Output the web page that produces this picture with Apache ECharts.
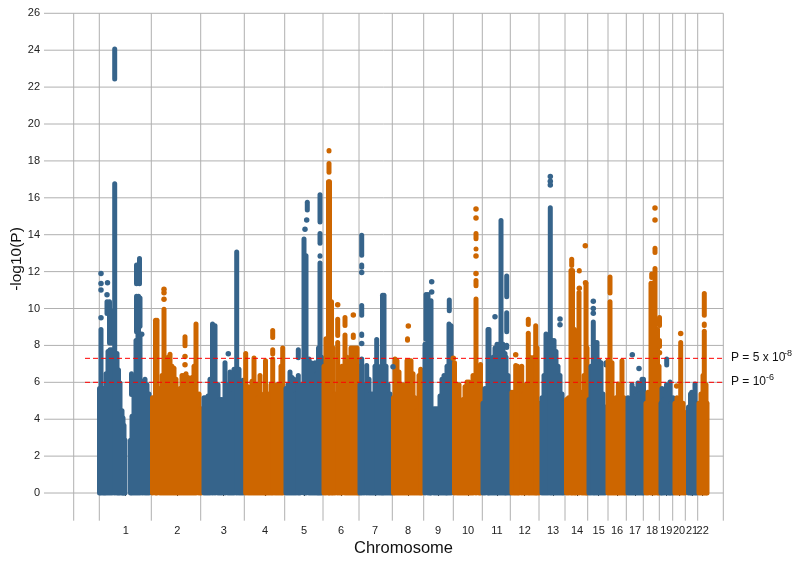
<!DOCTYPE html>
<html><head><meta charset="utf-8">
<style>html,body{margin:0;padding:0;background:#fff}#c{width:800px;height:563px}</style>
<script src="https://cdn.jsdelivr.net/npm/echarts@6/dist/echarts.min.js"></script>
</head><body><div id="c"></div>
<script>
const chromLabels=['1','2','3','4','5','6','7','8','9','10','11','12','13','14','15','16','17','18','19','20','21','22'];
const chromCenters=[125.7,177.3,223.7,265,304,341,375,408,438,468,497,524.7,553,577,598.7,617,635,652,666.3,679,692,702.7];
const chromBounds=[73.7,99.3,151.3,200.7,244.3,284.7,323,359,392.3,423.7,453.3,482.3,510.3,539,565,587.7,608,626.3,643.3,659.3,672.7,685.3,697.7,723.3];
const yTicks=[0,2,4,6,8,10,12,14,16,18,20,22,24,26];
const thresholdHigh=7.3, thresholdLow=6;
// columns: [position, lower -log10(P), upper -log10(P)]
const chr1=[[99.5,0,5.8],[101,0,9],[103,0,5.8],[104.5,0,5.8],[106,0,6.6],[108,0,7.8],[110,0,7.9],[112,0,7.9],[114.7,0,16.9],[114.7,22.3,24.2],[117,0,7.7],[118.5,0,6.8],[120,0,6.1],[122,0,4.6],[123,0,4.2],[124,0,3.8],[125,0,3],[107,9.6,10.5],[109.5,8,10.5],[111.5,8,10],[130.5,0,3],[132,0,4.3],[134,0,5.4],[131.5,5.2,6.6],[136,0,8.4],[138,0,9],[140,0,8.6],[136.5,8.6,10.8],[138.5,8.6,10.8],[140,8.9,10.7],[136.5,11.2,12.5],[139.5,11.2,12.85],[142.5,0,6.2],[145,0,6.3],[147,0,6],[149,0,5.5]];
const chr2=[[152.5,0,5.3],[155.5,0,9.5],[157,0,9.5],[160,0,5.8],[162,0,6.5],[164,0,10.1],[166,0,7],[168,0,7.5],[170,0,7.65],[172,0,7],[174,0,6.9],[176,0,6.3],[178,0,5],[180,0,5.8],[182,0,6.5],[184,0,6.5],[186,0,6.6],[188,0,6.4],[190,0,6],[192,0,6.4],[194,0,7],[196,0,9.3],[199,0,5.5],[201,0,4.7],[185,7.85,8.6]];
const chr3=[[204,0,5.3],[206,0,5.3],[208,0,5.4],[210,0,6.3],[212.5,0,9.3],[215,0,9.2],[218,0,6],[220,0,5.2],[222,0,5.2],[225,0,7.2],[228,0,6],[230,0,6.7],[232,0,5.5],[234,0,6.85],[236.7,0,13.2],[239,0,6.85],[241,0,5.8],[243,0,6.25]];
const chr4=[[245.7,0,7.7],[248,0,5.9],[250,0,5.5],[252,0,6.2],[254,0,7.45],[256,0,6],[258,0,5.3],[260,0,6.5],[262,0,5],[264,0,5.5],[265.5,0,7.3],[267,0,5.2],[269,0,5.5],[271,0,6],[272.7,0,7.4],[272.7,7.4,7.9],[272.7,8.3,8.95],[275,0,5.8],[277,0,6],[279,0,6],[281,0,7],[282.7,0,8]];
const chr5=[[286,0,5.8],[288,0,6],[290,0,6.7],[292,0,6.4],[294,0,6.3],[296,0,5.5],[298.3,0,6.5],[298.3,7.2,7.9],[300,0,6],[304,0,13.9],[306,0,13],[307.3,15.2,15.9],[309,0,7.4],[311,0,7.2],[313,0,7],[315,0,7.2],[317,0,6.6],[318.5,0,8],[320,0,12.6],[320,12.7,13],[320,13.4,14.2],[320,14.55,16.3],[321.5,0,7.5]];
const chr6=[[324,0,7],[326,0,8.5],[328.5,0,17],[329.5,0,17],[329,17.25,18],[329,18.4,18.7],[331.5,0,10.5],[333,0,8],[335,0,5.5],[337.7,0,8.3],[337.7,8.4,9.55],[340,0,6],[342,0,7],[345,0,8.7],[345,8.95,9.65],[347,0,7.5],[349,0,6.5],[351,0,8],[353,0,8],[355,0,8],[357,0,8],[353.3,8.3,8.7],[358.5,0,7]];
const chr7=[[361.7,12.75,14.1],[361.7,12.1,12.5],[361.7,9.5,10.3],[361.7,8.4,8.75],[360,0,6],[361.7,0,7.4],[364,0,6],[366.7,0,7.05],[369,0,6.3],[371,0,5.5],[373,0,5.5],[375,0,7],[376.7,0,8.45],[379,0,5.8],[381,0,7],[382.5,0,10.85],[384,0,10.85],[386,0,7],[388,0,6],[390,0,5.5],[391.7,0,4.5]];
const chr8=[[393.5,0,5.3],[395,0,7.4],[397,0,7.3],[399,0,6.7],[401,0,5.5],[403,0,6],[405,0,5.8],[407,0,7.3],[409,0,7.3],[411,0,7.3],[413,0,6.6],[415,0,5.3],[417,0,4.6],[419,0,6.5],[420.7,0,6.85],[422,0,6],[407.5,8.15,8.5]];
const chr9=[[425,0,8.2],[426,8.2,10.9],[428,0,10.9],[430,0,8.2],[431,0,10.55],[434,0,4.7],[436,0,4.7],[438,0,4.7],[440,0,5.4],[442,0,6.3],[444,0,6.5],[446,0,6],[447,0,7],[449,0,9.3],[451,0,9.2],[449.3,9.75,10.6]];
const chr10=[[454.5,0,7.2],[457,0,6],[459,0,6],[461,0,4.5],[463,0,5.2],[465,0,5.9],[467,0,6.15],[469,0,6.15],[471,0,6],[473,0,6.5],[476,0,10.65],[479,0,7],[480.5,0,7.1],[476,11.1,11.65],[476,13.65,14.2],[476,13.1,13.35]];
const chr11=[[483,0,5],[485,0,5.8],[488,0,9],[489,0,9],[491,0,6.5],[493,0,7.5],[495,0,8],[497,0,8.2],[499,0,8.2],[501,0,14.9],[503,0,8.2],[505,0,7.7],[506.7,7.75,8.15],[506.7,8.6,9.9],[506.7,10.5,11.9],[506,0,7.5],[508,0,6.5],[510,0,5.6]];
const chr12=[[512,0,5.6],[514,0,5.6],[515.7,0,7.05],[517.5,0,7],[519,0,5.5],[521.7,0,7],[524,0,5.5],[526,0,6],[528.3,0,8.8],[528.3,9,9.55],[530,0,7.5],[532,0,5.8],[534,0,7.5],[535.7,0,9.2],[537,0,8],[539,0,5]];
const chr13=[[542,0,5.3],[544,0,6.5],[546,0,8.75],[548,0,8.5],[550.3,0,15.6],[552,0,8.4],[554,0,8.4],[556,0,7.8],[558,0,7],[560,0,6.5],[562,0,5.5],[563.5,0,5]];
const chr14=[[566.5,0,5.2],[568.5,0,5.3],[571,0,12.2],[572.5,0,12.2],[571.7,12.2,12.8],[574.5,0,9],[576,0,6],[579,0,11],[579.3,11.9,12.2],[582,0,5.6],[584,0,6.5],[586,0,11.5],[587,0,8]];
const chr15=[[589,0,5.2],[591,0,7],[593.3,0,9.4],[595,0,8.3],[597,0,8.3],[599,0,7.3],[601,0,7.2],[603,0,5.5],[605,0,4.8],[606,6.8,7.2]];
const chr16=[[608,0,7.3],[610,0,10.5],[610,10.7,11.85],[612,0,7.2],[614,0,5],[616,0,5.3],[618.3,0,6.05],[620,0,6],[622,0,7.3],[624,0,5.3],[625.5,0,4.5]];
const chr17=[[628,0,5.3],[630,0,5],[632,0,6],[634,0,5.8],[636,0,5.4],[638,0,6.1],[640,0,5.5],[642,0,6.3],[643.5,0,6.3]];
const chr18=[[646,0,5],[648,0,5.6],[651,0,11.5],[653,0,11.5],[655,0,12.3],[651.7,11.55,12],[655,12.9,13.4],[657.5,0,9],[659,0,7],[659.5,8.95,9.65],[659.5,7.8,8.4]];
const chr19=[[661,0,5],[662,0,5.8],[664,0,5.2],[666.5,0,6],[666.7,6.8,7.4],[668.5,0,5.5],[670,0,6.15],[671,0,5],[673,0,5.3]];
const chr20=[[675,0,5],[677,0,5.3],[679,0,5],[680.7,0,8.3],[683,0,5],[685,0,4.5]];
const chr21=[[688.5,0,4.8],[690.5,0,5.5],[691.7,0,5.6],[693,0,5.5],[695,0,6.05],[696.5,0,5]];
const chr22=[[699,0,5],[701,0,5.5],[703,0,6.5],[704.3,0,8.9],[704.3,8.95,9.3],[704.3,9.5,10.95],[706,0,6],[707,0,5]];
const allChroms=[chr1,chr2,chr3,chr4,chr5,chr6,chr7,chr8,chr9,chr10,chr11,chr12,chr13,chr14,chr15,chr16,chr17,chr18,chr19,chr20,chr21,chr22];
// isolated points: [position, -log10(P)]
const dotsBlue=[[101,11.9],[101,11.35],[101,11],[101,9.5],[107.5,11.4],[107,10.75],[141.7,8.6],[228.3,7.55],[306.7,14.8],[305,14.3],[361.7,11.95],[361.7,8.1],[393,6.85],[431.7,11.45],[431.7,10.9],[495,9.55],[550.3,17.15],[550.3,16.9],[550.3,16.7],[560,9.43],[560,9.12],[593.3,10.4],[593.3,10],[593.3,9.75],[632.3,7.5],[639,6.75]];
const dotsOrange=[[164,11.05],[164,10.85],[164,10.5],[185,7.4],[185,6.95],[337.7,10.2],[353.3,9.65],[408.3,9.05],[453.3,7.3],[476,15.4],[476,14.9],[476,12.85],[476,11.9],[515.7,7.5],[571.7,11.9],[579.3,11.1],[585.3,13.4],[585.5,11.4],[655,15.45],[655,14.8],[652,11.2],[659.5,7.6],[676.7,5.8],[680.7,8.65]];

const blue='#36648B', orange='#CD6600';
function columnItem(params,api){
  const x=api.value(0), low=api.value(1), high=api.value(2);
  const a=api.coord([x,low]), b=api.coord([x,high]);
  const r=2.5;
  let y1=low===0?a[1]:a[1]-r, y2=b[1]+r;
  if(y2>=y1){const m=(a[1]+b[1])/2;y1=m+0.05;y2=m-0.05;}
  return {type:'line',shape:{x1:a[0],y1:y1,x2:b[0],y2:y2},style:{stroke:api.visual('color'),lineWidth:5,lineCap:'round'}};
}
function gridLine(vertical){return function(params,api){
  const v=api.value(0);
  const a=vertical?api.coord([v,-1.5]):api.coord([44,v]);
  const b=vertical?api.coord([v,26]):api.coord([723.3,v]);
  return {type:'line',shape:{x1:a[0],y1:a[1],x2:b[0],y2:b[1]},style:{stroke:'#b0b0b0',lineWidth:1}};
};}
const series=[
 {type:'custom',silent:true,clip:false,z:1,renderItem:gridLine(false),data:yTicks.map(v=>[v]),encode:{x:[],y:0}},
 {type:'custom',silent:true,clip:false,z:1,renderItem:gridLine(true),data:chromBounds.map(v=>[v]),encode:{x:0,y:[]}}
];
allChroms.forEach((c,i)=>series.push({type:'custom',name:'chr'+chromLabels[i],z:2,clip:false,renderItem:columnItem,itemStyle:{color:i%2?orange:blue},encode:{x:0,y:[1,2]},data:c}));
series.push({type:'scatter',z:3,symbolSize:5.5,itemStyle:{color:blue,opacity:1},data:dotsBlue,clip:false});
series.push({type:'scatter',z:3,symbolSize:5.5,itemStyle:{color:orange,opacity:1},data:dotsOrange,clip:false});
[thresholdHigh,thresholdLow].forEach(t=>series.push({type:'line',z:4,symbol:'none',silent:true,clip:false,lineStyle:{color:'#ff0000',width:1,type:[5,3]},data:[[85,t],[722,t]]}));

const font='"Liberation Sans",Arial,sans-serif';
const chart=echarts.init(document.getElementById('c'),null,{renderer:'canvas'});
chart.setOption({
 animation:false,backgroundColor:'#fff',
 grid:{left:44,width:679.3,top:13.3,height:507.4,containLabel:false},
 xAxis:{type:'value',min:44,max:723.3,splitLine:{show:false},axisLine:{show:false},
  axisTick:{show:true,length:3,lineStyle:{color:'#444'},customValues:chromCenters},
  axisLabel:{show:true,margin:5,fontFamily:font,fontSize:11,color:'#222',hideOverlap:false,customValues:chromCenters.concat([723.3]),
   formatter:v=>chromLabels[chromCenters.indexOf(v)]||''}},
 yAxis:{type:'value',min:-1.5,max:26,splitLine:{show:false},axisLine:{show:false},axisTick:{show:false},
  axisLabel:{show:true,margin:4,fontFamily:font,fontSize:11,color:'#222',showMinLabel:true,showMaxLabel:true,customValues:yTicks}},
 graphic:[
  {type:'text',left:354,top:540,style:{text:'Chromosome',font:'16.5px '+font,fill:'#111'}},
  {type:'text',x:17,y:259,rotation:Math.PI/2,style:{text:'-log10(P)',font:'15.5px '+font,fill:'#111',textAlign:'center',textVerticalAlign:'middle'}},
  {type:'text',left:731,top:352,style:{text:'P = 5 x 10',font:'12px '+font,fill:'#111'}},
  {type:'text',left:784,top:349,style:{text:'-8',font:'9px '+font,fill:'#111'}},
  {type:'text',left:731,top:376,style:{text:'P = 10',font:'12px '+font,fill:'#111'}},
  {type:'text',left:766,top:373,style:{text:'-6',font:'9px '+font,fill:'#111'}}
 ],
 series:series
});
</script></body></html>
